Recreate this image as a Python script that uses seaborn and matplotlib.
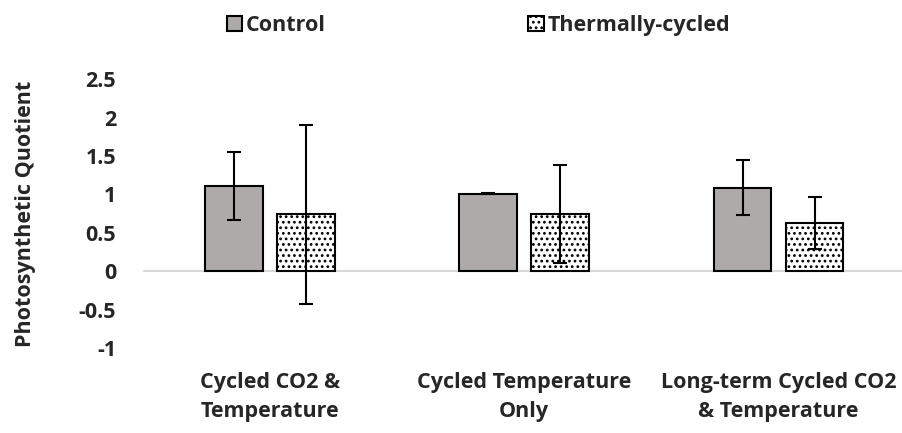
import pandas as pd
import seaborn as sns
import matplotlib.pyplot as plt

# Дані
categories = ["Cycled CO2 &\nTemperature", "Cycled Temperature\nOnly", "Long-term Cycled CO2\n& Temperature"]
groups = ["Control", "Thermally-cycled"]
control_mean = [1.11, 1.01, 1.09]
control_err = [0.44, 0.01, 0.36]
thermal_mean = [0.74, 0.75, 0.63]
thermal_err = [1.17, 0.64, 0.34]

df = pd.DataFrame({
    "category": categories * 2,
    "group": [groups[0]] * 3 + [groups[1]] * 3,
    "value": control_mean + thermal_mean,
})
errors = [control_err, thermal_err]

sns.set_style("white")
plt.rcParams['font.family'] = ['Open Sans', 'DejaVu Sans']
plt.rcParams['font.weight'] = 'bold'
plt.rcParams['hatch.linewidth'] = 1.2

fig = plt.figure(figsize=(9.03, 4.33), dpi=100)
ax = fig.add_axes([0.158, 0.196, 0.845, 0.621])

sns.barplot(data=df, x="category", y="value", hue="group", hue_order=groups,
            errorbar=None, width=0.566, gap=0.2, ax=ax, legend=False)
bars = list(ax.containers)

# Оформлення стовпців
for i, cont in enumerate(bars):
    for p in cont.patches:
        p.set_edgecolor("black")
        p.set_linewidth(1.5)
        if i == 0:
            p.set_facecolor("#AEAAAA")
        else:
            p.set_facecolor("white")
            p.set_hatch("...")
    xs = [p.get_x() + p.get_width() / 2 for p in cont.patches]
    ys = [p.get_height() for p in cont.patches]
    ax.errorbar(xs, ys, yerr=errors[i], fmt="none", ecolor="black",
                elinewidth=1.5, capsize=5, capthick=1.5, zorder=5)

ax.axhline(0, color="#D9D9D9", lw=1.5, zorder=0)
ax.set_xlim(-0.5, 2.5)
ax.set_ylim(-1, 2.5)
ax.set_yticks([-1, -0.5, 0, 0.5, 1, 1.5, 2, 2.5])
ax.set_yticklabels(["-1", "-0.5", "0", "0.5", "1", "1.5", "2", "2.5"])
for s in ax.spines.values():
    s.set_visible(False)
ax.tick_params(axis="y", length=0, pad=19, labelsize=15.5)
ax.tick_params(axis="x", length=0, pad=17, labelsize=15.5)
for t in ax.get_xticklabels() + ax.get_yticklabels():
    t.set_fontweight("bold")
for t in ax.get_xticklabels():
    t.set_linespacing(1.5)
ax.set_xlabel("")
ax.set_ylabel("Photosynthetic Quotient", fontsize=15.5, fontweight="bold", labelpad=31)

fig.legend([c.patches[0] for c in bars], groups, loc="upper center",
           bbox_to_anchor=(0.53, 1.01), ncol=2, frameon=False,
           prop={"size": 15.5, "weight": "bold"}, handlelength=0.7, handleheight=0.7,
           handletextpad=0.2, columnspacing=9.4)

plt.savefig("out.png", dpi=100)
